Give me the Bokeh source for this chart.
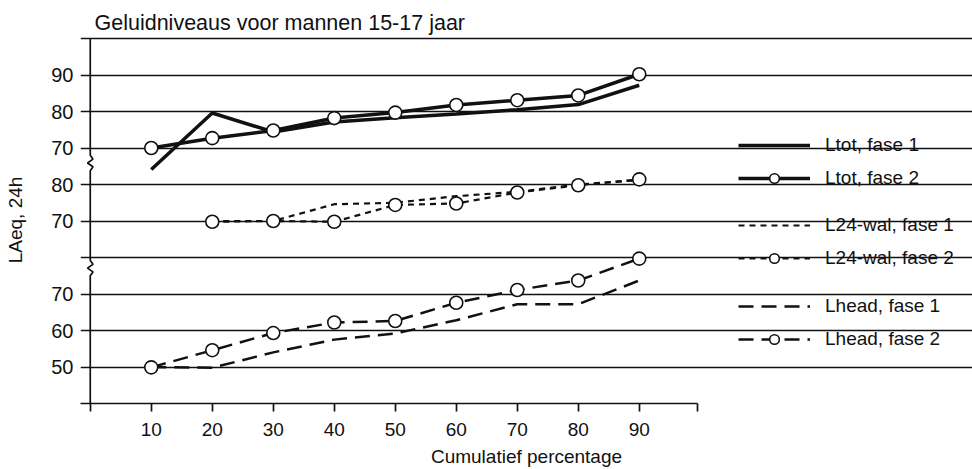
import numpy as np
from bokeh.plotting import figure
from bokeh.models import Legend, LegendItem, FixedTicker, Range1d
from bokeh.embed import file_html
from bokeh.resources import INLINE

# ---------------- data ----------------
percent = [10, 20, 30, 40, 50, 60, 70, 80, 90]
ltot_fase1 = [64.1, 79.6, 74.4, 77.1, 78.3, 79.3, 80.5, 81.9, 87.2]
ltot_fase2 = [70.0, 72.7, 74.8, 78.2, 79.7, 81.8, 83.1, 84.4, 90.2]

l24_percent = [20, 30, 40, 50, 60, 70, 80, 90]
l24_fase1 = [70.0, 70.0, 74.6, 75.0, 76.8, 78.0, 80.0, 81.2]
l24_fase2 = [69.8, 70.0, 69.8, 74.4, 74.8, 77.8, 79.8, 81.4]

lhead_fase1 = [50.0, 49.8, 54.0, 57.5, 59.2, 62.8, 67.2, 67.2, 73.7]
lhead_fase2 = [49.9, 54.6, 59.3, 62.2, 62.6, 67.6, 71.1, 73.7, 79.7]

# broken y axis: each panel's values are shifted onto one shared scale
panel_offset = {"ltot": 0, "l24": -20, "lhead": -40}
y_ticks = [10, 20, 30, 50, 60, 70, 80, 90]
y_tick_labels = ["50", "60", "70", "70", "80", "70", "80", "90"]
grid_levels = [0, 10, 20, 30, 40, 50, 60, 70, 80, 90, 100]
x_ticks = [0, 10, 20, 30, 40, 50, 60, 70, 80, 90, 99.5]
x_tick_labels = ["", "10", "20", "30", "40", "50", "60", "70", "80", "90", ""]
axis_breaks = [(35.0, 39.2), (63.8, 68.0)]
x_axis_end = 99.5

title_text = "Geluidniveaus voor mannen 15-17 jaar"
x_title = "Cumulatief percentage"
y_title = "LAeq, 24h"

FONT = "Liberation Sans"
INK = "#111111"

W, H = 972, 469
LEFT, TOP, BOTTOM = 80, 36, 66
X0 = -1.6
PX_PER_X = 6.1
X1 = X0 + (W - LEFT) / PX_PER_X

p = figure(width=W, height=H,
           x_range=Range1d(X0, X1), y_range=Range1d(0, 100.55),
           output_backend="svg", toolbar_location=None,
           min_border_left=LEFT, min_border_right=0,
           min_border_top=TOP, min_border_bottom=BOTTOM,
           title=title_text)
p.outline_line_color = None
p.background_fill_color = "white"
p.border_fill_color = "white"

p.title.text_font = FONT
p.title.text_font_size = "21.5px"
p.title.text_font_style = "normal"
p.title.text_color = INK
p.title.align = "left"
p.title.offset = 14
p.title.standoff = 4

# grid
p.xgrid.visible = False
p.ygrid.ticker = FixedTicker(ticks=grid_levels)
p.ygrid.grid_line_color = INK
p.ygrid.grid_line_width = 1.7
p.ygrid.bounds = (X0, x_axis_end)

# x axis
p.xaxis.bounds = (X0, x_axis_end)
p.xaxis.ticker = FixedTicker(ticks=x_ticks)
p.xaxis.major_label_overrides = {t: l for t, l in zip(x_ticks, x_tick_labels)}
p.xaxis.axis_line_color = INK
p.xaxis.axis_line_width = 1.7
p.xaxis.major_tick_line_color = INK
p.xaxis.major_tick_line_width = 1.7
p.xaxis.major_tick_out = 8
p.xaxis.major_tick_in = 0
p.xaxis.minor_tick_line_color = None
p.xaxis.major_label_text_font = FONT
p.xaxis.major_label_text_font_size = "19px"
p.xaxis.major_label_text_color = INK
p.xaxis.major_label_standoff = 11
p.xaxis.axis_label = x_title
p.xaxis.axis_label_text_font = FONT
p.xaxis.axis_label_text_font_size = "19px"
p.xaxis.axis_label_text_font_style = "normal"
p.xaxis.axis_label_text_color = INK
p.xaxis.axis_label_standoff = 7

# y axis (labels only; the axis line with break marks is drawn below)
p.yaxis.ticker = FixedTicker(ticks=y_ticks)
p.yaxis.major_label_overrides = {t: l for t, l in zip(y_ticks, y_tick_labels)}
p.yaxis.axis_line_color = None
p.yaxis.major_tick_line_color = None
p.yaxis.minor_tick_line_color = None
p.yaxis.major_tick_out = 0
p.yaxis.major_tick_in = 0
p.yaxis.major_label_standoff = 7
p.yaxis.major_label_text_font = FONT
p.yaxis.major_label_text_font_size = "20px"
p.yaxis.major_label_text_color = INK
p.yaxis.axis_label = y_title
p.yaxis.axis_label_text_font = FONT
p.yaxis.axis_label_text_font_size = "19px"
p.yaxis.axis_label_text_font_style = "normal"
p.yaxis.axis_label_text_color = INK
p.yaxis.axis_label_standoff = 22

# vertical axis line with zig-zag break marks
ax_x, ax_y = [0.0], [0.0]
for a, b in sorted(axis_breaks):
    h = b - a
    ax_x += [0.0, 0.45, -0.45, 0.45, 0.0]
    ax_y += [a, a + 0.25 * h, a + 0.5 * h, a + 0.75 * h, b]
ax_x.append(0.0)
ax_y.append(100.0)
p.line(ax_x, ax_y, line_color=INK, line_width=1.7)

def shift(vals, key):
    return list(np.array(vals, dtype=float) + panel_offset[key])

# Ltot
r_lt1 = p.line(percent, shift(ltot_fase1, "ltot"), line_color=INK, line_width=3.5)
r_lt2 = p.line(percent, shift(ltot_fase2, "ltot"), line_color=INK, line_width=3.5)
m_lt2 = p.scatter(percent, shift(ltot_fase2, "ltot"), marker="circle", size=13,
                  fill_color="white", line_color=INK, line_width=1.6)

# L24-wal
r_l1 = p.line(l24_percent, shift(l24_fase1, "l24"), line_color=INK, line_width=2.2, line_dash="6 5")
r_l2 = p.line(l24_percent, shift(l24_fase2, "l24"), line_color=INK, line_width=2.2, line_dash="6 5")
m_l2 = p.scatter(l24_percent, shift(l24_fase2, "l24"), marker="circle", size=13,
                 fill_color="white", line_color=INK, line_width=1.6)

# Lhead
r_h1 = p.line(percent, shift(lhead_fase1, "lhead"), line_color=INK, line_width=2.5, line_dash="15 8")
r_h2 = p.line(percent, shift(lhead_fase2, "lhead"), line_color=INK, line_width=2.5, line_dash="15 8")
m_h2 = p.scatter(percent, shift(lhead_fase2, "lhead"), marker="circle", size=13,
                 fill_color="white", line_color=INK, line_width=1.6)

legend_groups = [
    [("Ltot, fase 1", [r_lt1]), ("Ltot, fase 2", [r_lt2, m_lt2])],
    [("L24-wal, fase 1", [r_l1]), ("L24-wal, fase 2", [r_l2, m_l2])],
    [("Lhead, fase 1", [r_h1]), ("Lhead, fase 2", [r_h2, m_h2])],
]
legend_pos = [(658, 213), (658, 133), (658, 52.5)]
for group, loc in zip(legend_groups, legend_pos):
    lg = Legend(items=[LegendItem(label=lab, renderers=rs) for lab, rs in group],
                location=loc, orientation="vertical",
                glyph_width=72, glyph_height=24, label_height=24,
                label_standoff=15, spacing=9, padding=0, margin=0,
                border_line_color=None, background_fill_alpha=0,
                label_text_font=FONT, label_text_font_size="19px",
                label_text_color=INK)
    p.add_layout(lg)

open("out.html", "w").write(file_html(p, INLINE))
